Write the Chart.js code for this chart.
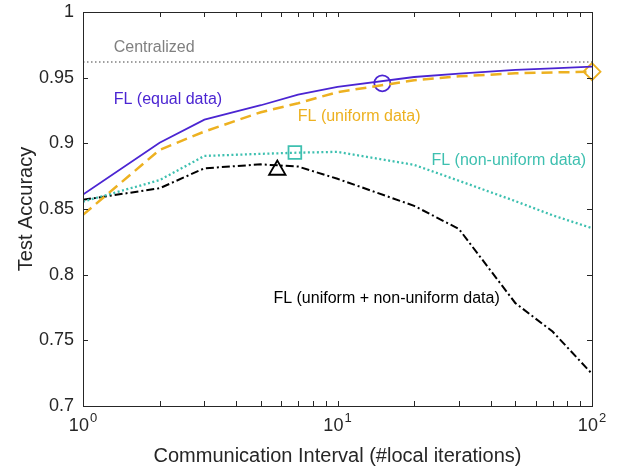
<!DOCTYPE html>
<html><head><meta charset="utf-8">
<script src="https://cdn.jsdelivr.net/npm/chart.js@4.4.0/dist/chart.umd.min.js"></script>
<style>html,body{margin:0;padding:0;background:#fff;}#wrap{width:623px;height:473px;}</style>
</head><body><div id="wrap"><canvas id="c" width="623" height="473"></canvas></div>
<script>
// ---- data ----
const intervals      = [1, 2, 3, 5, 7, 10, 20, 30, 50, 70, 100];
const accEqual       = [0.861, 0.9005, 0.918, 0.929, 0.937, 0.943, 0.9505, 0.953, 0.956, 0.957, 0.9584];
const accUniform     = [0.8455, 0.895, 0.909, 0.9237, 0.9305, 0.939, 0.948, 0.951, 0.9533, 0.954, 0.9545];
const accNonUniform  = [0.8556, 0.872, 0.8904, 0.892, 0.8929, 0.8935, 0.8836, 0.8715, 0.856, 0.8452, 0.8354];
const accMixed       = [0.857, 0.8658, 0.881, 0.884, 0.8823, 0.873, 0.8524, 0.8348, 0.7783, 0.7567, 0.7245];
const centralizedAcc = 0.962;
const centralizedX   = [1, 100];
// highlighted points: equal, uniform, non-uniform, mixed
const markerX = [15, 100, 6.8, 5.8];
const markerY = [0.9457, 0.9546, 0.893, 0.8797];
// tick labels
const yTickValues = [0.7, 0.75, 0.8, 0.85, 0.9, 0.95, 1];
const xTickValues = [1, 10, 100];
const xTickBase = ['10', '10', '10'];
const xTickExp  = ['0', '1', '2'];
const xMinorTicks = [2,3,4,5,6,7,8,9,20,30,40,50,60,70,80,90];
// text labels (anchored in data units)
const labelTexts = ['Centralized', 'FL (equal data)', 'FL (uniform data)', 'FL (non-uniform data)', 'FL (uniform + non-uniform data)'];
const labelX = [1.32, 1.32, 6.98, 23.4, 5.6];
const labelY = [0.9726, 0.933, 0.9203, 0.8868, 0.7821];

// ---- styles ----
const C_BLUE = '#4B25D2', C_ORANGE = '#EDB120', C_TEAL = '#3EC0B0', C_BLACK = '#000000', C_GRAY = '#808080', C_AXIS = '#262626';
const labelColors = [C_GRAY, C_BLUE, C_ORANGE, C_TEAL, C_BLACK];
const FONT = "'Liberation Sans', Arial, Helvetica, sans-serif";

const pts = (xs, ys) => xs.map((x, i) => ({x, y: ys[i]}));

const overlay = {
  id: 'overlay',
  afterDraw(chart) {
    const {ctx, chartArea: a, scales: {x, y}} = chart;
    ctx.save();
    // box
    ctx.strokeStyle = C_AXIS; ctx.lineWidth = 1;
    ctx.strokeRect(Math.round(a.left) + 0.5, Math.round(a.top) + 0.5, Math.round(a.right - a.left), Math.round(a.bottom - a.top));
    // ticks
    const tl = 5;
    ctx.beginPath();
    yTickValues.forEach(v => {
      const py = Math.round(y.getPixelForValue(v)) + 0.5;
      ctx.moveTo(a.left, py); ctx.lineTo(a.left + tl, py);
      ctx.moveTo(a.right, py); ctx.lineTo(a.right - tl, py);
    });
    xTickValues.concat(xMinorTicks).forEach(v => {
      const px = Math.round(x.getPixelForValue(v)) + 0.5;
      ctx.moveTo(px, a.bottom); ctx.lineTo(px, a.bottom - tl);
      ctx.moveTo(px, a.top); ctx.lineTo(px, a.top + tl);
    });
    ctx.stroke();
    // x tick labels with superscripts
    ctx.fillStyle = C_AXIS; ctx.textBaseline = 'alphabetic'; ctx.textAlign = 'left';
    xTickValues.forEach((v, i) => {
      const px = x.getPixelForValue(v);
      ctx.font = '18px ' + FONT;
      const w1 = ctx.measureText(xTickBase[i]).width;
      ctx.font = '13px ' + FONT;
      const w2 = ctx.measureText(xTickExp[i]).width;
      const sx = px - (w1 + w2 + 1) / 2;
      ctx.font = '18px ' + FONT;
      ctx.fillText(xTickBase[i], sx, 431);
      ctx.font = '13px ' + FONT;
      ctx.fillText(xTickExp[i], sx + w1 + 1, 422);
    });
    // text labels
    ctx.font = '16px ' + FONT; ctx.textBaseline = 'middle';
    labelTexts.forEach((t, i) => {
      ctx.fillStyle = labelColors[i];
      ctx.fillText(t, x.getPixelForValue(labelX[i]), y.getPixelForValue(labelY[i]));
    });
    ctx.restore();
  }
};

new Chart(document.getElementById('c'), {
  type: 'line',
  data: {
    datasets: [
      {label: 'Centralized', data: pts(centralizedX, [centralizedAcc, centralizedAcc]), borderColor: C_GRAY, borderWidth: 1.5, borderDash: [1.5, 2.5], pointRadius: 0},
      {label: 'FL (equal data)', data: pts(intervals, accEqual), borderColor: C_BLUE, borderWidth: 1.8, pointRadius: 0},
      {label: 'FL (uniform data)', data: pts(intervals, accUniform), borderColor: C_ORANGE, borderWidth: 2.5, borderDash: [11, 6], pointRadius: 0},
      {label: 'FL (non-uniform data)', data: pts(intervals, accNonUniform), borderColor: C_TEAL, borderWidth: 2.3, borderDash: [2, 2.5], pointRadius: 0},
      {label: 'FL (uniform + non-uniform data)', data: pts(intervals, accMixed), borderColor: C_BLACK, borderWidth: 2, borderDash: [8, 3, 2, 3], pointRadius: 0},
      {label: 'opt equal', data: [{x: markerX[0], y: markerY[0]}], showLine: false, pointStyle: 'circle', pointRadius: 8, borderColor: C_BLUE, backgroundColor: '#fff', pointBorderWidth: 1.8, clip: false},
      {label: 'opt uniform', data: [{x: markerX[1], y: markerY[1]}], showLine: false, pointStyle: 'rectRot', pointRadius: 8.5, borderColor: C_ORANGE, backgroundColor: '#fff', pointBorderWidth: 1.8, clip: false},
      {label: 'opt non-uniform', data: [{x: markerX[2], y: markerY[2]}], showLine: false, pointStyle: 'rect', pointRadius: 9, borderColor: C_TEAL, backgroundColor: '#fff', pointBorderWidth: 1.8, clip: false},
      {label: 'opt mixed', data: [{x: markerX[3], y: markerY[3]}], showLine: false, pointStyle: 'triangle', pointRadius: 9.5, borderColor: C_BLACK, backgroundColor: '#fff', pointBorderWidth: 1.8, clip: false}
    ]
  },
  options: {
    responsive: false, animation: false, devicePixelRatio: 1,
    layout: {padding: {left: 0, right: 31, top: 12, bottom: 0}},
    plugins: {legend: {display: false}, tooltip: {enabled: false}},
    elements: {line: {tension: 0, fill: false}},
    scales: {
      x: {
        type: 'logarithmic', min: 1, max: 100, position: 'bottom',
        grid: {display: false, drawTicks: false}, border: {display: false},
        ticks: {display: false},
        title: {display: true, text: 'Communication Interval (#local iterations)', color: C_AXIS, font: {family: FONT, size: 20}, padding: {top: 0, bottom: 5}},
        afterFit(s) { s.height = 67; s.paddingLeft = 0; s.paddingRight = 0; }
      },
      y: {
        type: 'linear', min: 0.7, max: 1,
        grid: {display: false, drawTicks: false}, border: {display: false},
        ticks: {stepSize: 0.05, color: C_AXIS, font: {family: FONT, size: 18}, padding: 9, callback: v => String(+(+v).toFixed(2))},
        title: {display: true, text: 'Test Accuracy', color: C_AXIS, font: {family: FONT, size: 20}, padding: {top: 14, bottom: 0}},
        afterFit(s) { s.width = 83; s.paddingTop = 0; s.paddingBottom = 0; }
      }
    }
  },
  plugins: [overlay]
});
</script></body></html>
